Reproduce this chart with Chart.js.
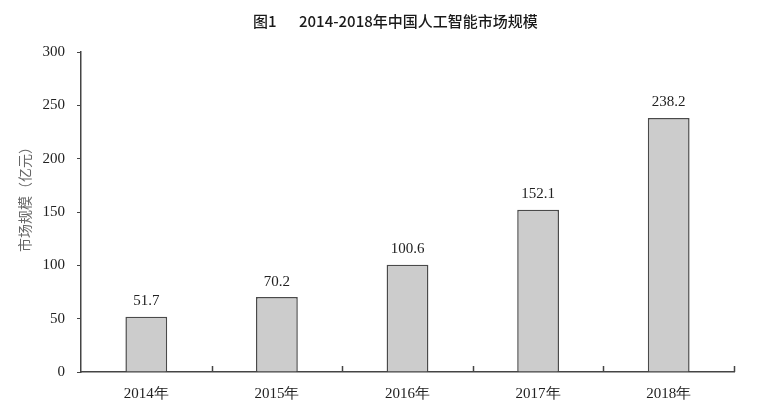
<!DOCTYPE html>
<html>
<head>
<meta charset="utf-8">
<script src="https://cdn.jsdelivr.net/npm/chart.js@4"></script>
<style>
  html, body { margin: 0; padding: 0; background: #fff; }
  #wrap { width: 758px; height: 419px; }
</style>
</head>
<body>
<div id="wrap"><canvas id="chart" width="758" height="419"></canvas></div>
<script>
const years = ["2014年", "2015年", "2016年", "2017年", "2018年"];
const marketSize = [51.7, 70.2, 100.6, 152.1, 238.2];
const yTicks = [0, 50, 100, 150, 200, 250, 300];

const serif = "'Liberation Serif', 'Times New Roman', serif";
const cjk = "'Noto Sans CJK SC', sans-serif";

// title, y-axis title, value labels and inward x ticks
const extras = {
  id: "extras",
  afterDraw(chart) {
    const ctx = chart.ctx;
    const x = chart.scales.x;
    ctx.save();
    ctx.fillStyle = "#1a1a1a";
    ctx.font = "500 15px " + cjk;
    ctx.textBaseline = "middle";
    ctx.textAlign = "left";
    ctx.fillText("图1", 253, 21);
    ctx.fillText("2014-2018年中国人工智能市场规模", 299, 21);

    ctx.fillStyle = "#666";
    ctx.font = "14px " + cjk;
    ctx.translate(25, 196);
    ctx.rotate(-Math.PI / 2);
    ctx.textAlign = "center";
    ctx.fillText("市场规模（亿元）", 0, 0);
    ctx.restore();

    // tick marks between categories, pointing up into the plot
    ctx.save();
    ctx.strokeStyle = "#444";
    ctx.lineWidth = 1.5;
    const step = x.width / years.length;
    for (let i = 1; i <= years.length; i++) {
      const px = Math.round(x.left + step * i) + 0.5;
      ctx.beginPath();
      ctx.moveTo(px, x.top);
      ctx.lineTo(px, x.top - 6);
      ctx.stroke();
    }
    ctx.restore();

    ctx.save();
    ctx.fillStyle = "#222";
    ctx.font = "15px " + serif;
    ctx.textAlign = "center";
    ctx.textBaseline = "bottom";
    chart.getDatasetMeta(0).data.forEach((bar, i) => {
      ctx.fillText(marketSize[i].toFixed(1), bar.x, bar.y - 8);
    });
    ctx.restore();
  }
};

const ctx = document.getElementById("chart").getContext("2d");
new Chart(ctx, {
  type: "bar",
  data: {
    labels: years,
    datasets: [
      {
        label: "市场规模",
        data: marketSize,
        backgroundColor: "#cccccc",
        borderColor: "#4a4a4a",
        borderWidth: 1.5,
        barPercentage: 0.32,
        categoryPercentage: 1,
      },
    ],
  },
  options: {
    responsive: false,
    animation: false,
    layout: { padding: { top: 52, right: 24, bottom: 0, left: 0 } },
    plugins: {
      legend: { display: false },
      tooltip: { enabled: false },
    },
    scales: {
      x: {
        grid: { display: false },
        border: { color: "#444", width: 1.5 },
        ticks: {
          color: "#222",
          font: { family: serif, size: 15 },
          padding: 5,
        },
        afterFit(scale) { scale.height = 47; },
      },
      y: {
        min: 0,
        max: 300,
        afterBuildTicks(scale) { scale.ticks = yTicks.map(v => ({ value: v })); },
        grid: {
          drawOnChartArea: false,
          tickLength: 4,
          color: "#444",
        },
        border: { color: "#444", width: 1.5 },
        ticks: {
          color: "#222",
          font: { family: serif, size: 15 },
          padding: 12,
        },
        afterFit(scale) { scale.width = 81; },
      },
    },
  },
  plugins: [extras],
});
</script>
</body>
</html>
